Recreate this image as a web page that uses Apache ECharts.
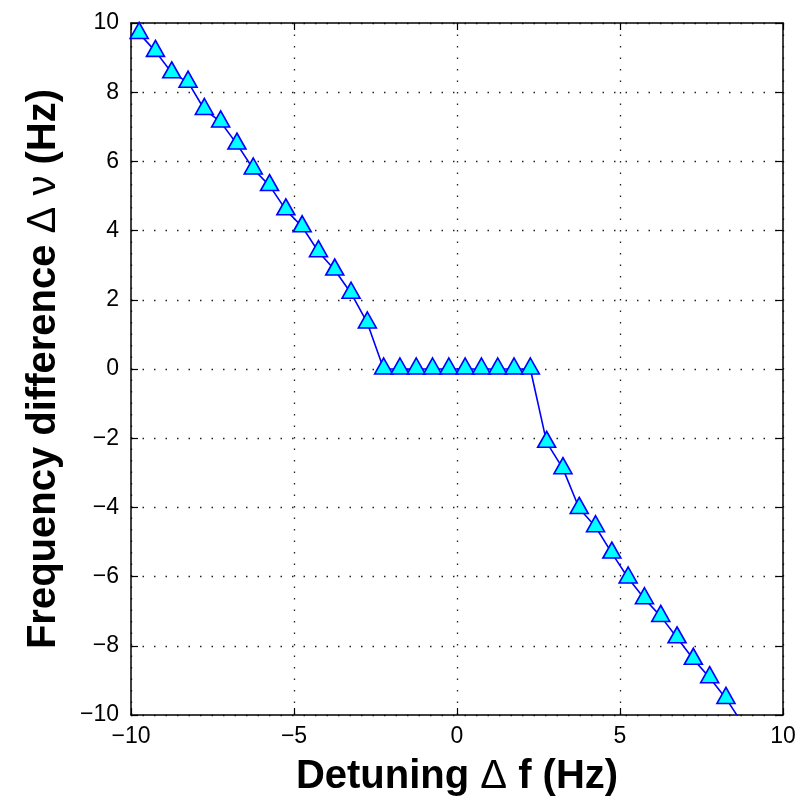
<!DOCTYPE html>
<html>
<head>
<meta charset="utf-8">
<script src="https://cdn.jsdelivr.net/npm/echarts@6/dist/echarts.min.js"></script>
<style>
html,body{margin:0;padding:0;background:#fff;}
#chart{width:806px;height:802px;}
</style>
</head>
<body>
<div id="chart"></div>
<script>
// Data
const detuning = [-9.75,-9.25,-8.75,-8.25,-7.75,-7.25,-6.75,-6.25,-5.75,-5.25,-4.75,-4.25,-3.75,-3.25,-2.75,
  -2.25,-1.75,-1.25,-0.75,-0.25,0.25,0.75,1.25,1.75,2.25,
  2.75,3.25,3.75,4.25,4.75,5.25,5.75,6.25,6.75,7.25,7.75,8.25,8.75];
const freqDiff = [9.7,9.18,8.56,8.29,7.5,7.14,6.5,5.78,5.3,4.6,4.11,3.39,2.86,2.19,1.33,
  0,0,0,0,0,0,0,0,0,0,
  -2.12,-2.88,-4.03,-4.56,-5.32,-6.04,-6.64,-7.15,-7.77,-8.39,-8.92,-9.52,-10.24];
const xTicks = [-10,-5,0,5,10];
const yTicks = [-10,-8,-6,-4,-2,0,2,4,6,8,10];

const fmt = v => (v < 0 ? '\u2212' + Math.abs(v) : String(v));
const font = '"Liberation Sans", Arial, Helvetica, sans-serif';
const black = '#000';

const chart = echarts.init(document.getElementById('chart'), null, {renderer: 'canvas'});
const tickStyle = {show: true, inside: true, length: 7, lineStyle: {color: black, width: 1.2}};
const grid = {show: true, lineStyle: {color: '#222', width: 1.3, type: [1.5, 10]}};
const titleRich = {
  b: {fontSize: 40, fontWeight: 'bold', fontFamily: font, color: black},
  d: {fontSize: 40, fontWeight: 'normal', fontFamily: font, color: black}
};

chart.setOption({
  animation: false,
  backgroundColor: '#fff',
  grid: {left: 131, right: 23, top: 23, bottom: 83, containLabel: false},
  xAxis: [{
    type: 'value', min: xTicks[0], max: xTicks[xTicks.length-1], interval: 5,
    position: 'bottom',
    axisLine: {show: true, onZero: false, lineStyle: {color: black, width: 1.5}},
    axisTick: tickStyle,
    axisLabel: {color: black, fontSize: 23, fontFamily: font, margin: 10, formatter: fmt},
    splitLine: grid,
    name: '{b|Detuning }{d|\u0394}{b| f (Hz)}',
    nameLocation: 'middle', nameGap: 42,
    nameTextStyle: {rich: titleRich}
  }, {
    type: 'value', min: xTicks[0], max: xTicks[xTicks.length-1], interval: 5,
    position: 'top',
    axisLine: {show: true, onZero: false, lineStyle: {color: black, width: 1.5}},
    axisTick: tickStyle, axisLabel: {show: false}, splitLine: {show: false}
  }],
  yAxis: [{
    type: 'value', min: yTicks[0], max: yTicks[yTicks.length-1], interval: 2,
    position: 'left',
    axisLine: {show: true, onZero: false, lineStyle: {color: black, width: 1.5}},
    axisTick: tickStyle,
    axisLabel: {color: black, fontSize: 23, fontFamily: font, margin: 12, formatter: fmt},
    splitLine: grid,
    name: '{b|Frequency difference }{d|\u0394 \u03bd}{b| (Hz)}',
    nameLocation: 'middle', nameGap: 67,
    nameTextStyle: {rich: titleRich}
  }, {
    type: 'value', min: yTicks[0], max: yTicks[yTicks.length-1], interval: 2,
    position: 'right',
    axisLine: {show: true, onZero: false, lineStyle: {color: black, width: 1.5}},
    axisTick: tickStyle, axisLabel: {show: false}, splitLine: {show: false}
  }],
  series: [{
    type: 'line',
    xAxisIndex: 0, yAxisIndex: 0,
    data: detuning.map((x, i) => [x, freqDiff[i]]),
    clip: true,
    lineStyle: {color: '#0000ff', width: 1.6},
    symbol: 'triangle',
    symbolSize: [18, 16],
    symbolOffset: [0, -3],
    showAllSymbol: true,
    itemStyle: {color: '#00ffff', borderColor: '#0000ff', borderWidth: 1.6}
  }]
});
</script>
</body>
</html>
